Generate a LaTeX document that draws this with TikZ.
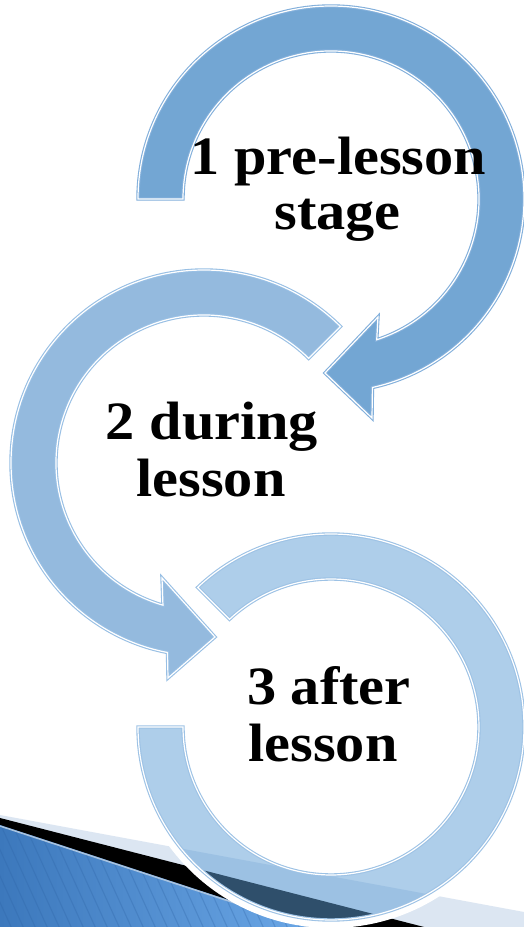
\documentclass[tikz,border=0pt]{standalone}
\usepackage{fontspec}
\setmainfont{Liberation Serif}
\usetikzlibrary{calc}
\definecolor{aonefill}{HTML}{73A6D3}
\definecolor{aoneline}{HTML}{82AFDB}
\definecolor{atwofill}{HTML}{94BADE}
\definecolor{atwoline}{HTML}{98BFE4}
\definecolor{athreefill}{HTML}{5E9ED6}
\definecolor{athreeline}{HTML}{9DC2E5}
\definecolor{paleband}{HTML}{DCE6F2}
\definecolor{stripedark}{HTML}{3C78BC}
\definecolor{stripelight}{HTML}{6BA7E6}
\definecolor{stripeline}{HTML}{2E64A6}
\definecolor{edgeline}{HTML}{A9C3DF}
\begin{document}
\begin{tikzpicture}[x=1pt,y=1pt,
  lbl/.style={anchor=base, inner sep=0pt, text=black,
    font=\bfseries\fontsize{54}{56}\selectfont},
  rim/.style={draw=#1, line width=1.1pt, double=white, double distance=1.2pt, line join=miter},
  arrowone/.style={fill=aonefill, rim=aoneline},
  arrowtwo/.style={fill=atwofill, rim=atwoline},
  ringthree/.style={fill=athreefill, fill opacity=0.5, rim=athreeline},
  stripe/.style={draw=stripeline, line width=1.1pt, opacity=0.3}
]
\useasboundingbox (0,0) rectangle (524,927);
\fill[white] (0,0) rectangle (524,927);

% background decoration (bottom left)
\fill[paleband] (0,112) -- (524,15) -- (524,0) -- (0,0) -- cycle;
\fill[black] (0,109) -- (424,0) -- (0,0) -- cycle;
\shade[left color=stripedark, right color=stripelight] (0,102) -- (311,0) -- (0,0) -- cycle;
\begin{scope}
  \clip (0,102) -- (311,0) -- (0,0) -- cycle;
  \foreach \i in {-20,...,40}
    \draw[stripe] (\i*12,130) -- ++(66,-145);
\end{scope}
\draw[edgeline, line width=1.5pt] (0,101) -- (311,-1);

\coordinate (c1) at (331,728);
\coordinate (c2) at (204,464);
\coordinate (c3) at (331,200);

% white halo of ring 3 over the decoration
\draw[white, line width=8pt] ($(c3)+(180:197)$) arc[start angle=180, end angle=360, radius=197];

% ring 3
\path[ringthree] ($(c3)+(180:193)$) arc[start angle=180, end angle=493.7, radius=193]
  -- ($(c3)+(133.3:148)$) arc[start angle=493.3, end angle=180, radius=148] -- cycle;

% arrow 2
\path[arrowtwo] ($(c2)+(45:193)$) arc[start angle=45, end angle=259.1, radius=193]
  -- (168,249) -- (215,290) -- (162,349)
  -- ($(c2)+(253.9:148)$) arc[start angle=253.9, end angle=45, radius=148] -- cycle;

% arrow 1
\path[arrowone] ($(c1)+(180:193)$) arc[start angle=180, end angle=-77.6, radius=193]
  -- (372,509) -- (325,554) -- (378,610)
  -- ($(c1)+(-72:148)$) arc[start angle=-72, end angle=180, radius=148] -- cycle;

% labels
\node[lbl] (t1a) at (338.5,752) {\scalebox{1.08}[1]{1 pre-lesson}};
\node[lbl] (t1b) at (337.5,697) {\scalebox{1.08}[1]{stage}};
\node[lbl] (t2a) at (212,487) {\scalebox{1.08}[1]{2 during}};
\node[lbl] (t2b) at (211,430) {\scalebox{1.08}[1]{lesson}};
\node[lbl] (t3a) at (329,222) {\scalebox{1.08}[1]{3 after}};
\node[lbl] (t3b) at (323,165) {\scalebox{1.08}[1]{lesson}};
\end{tikzpicture}
\end{document}
